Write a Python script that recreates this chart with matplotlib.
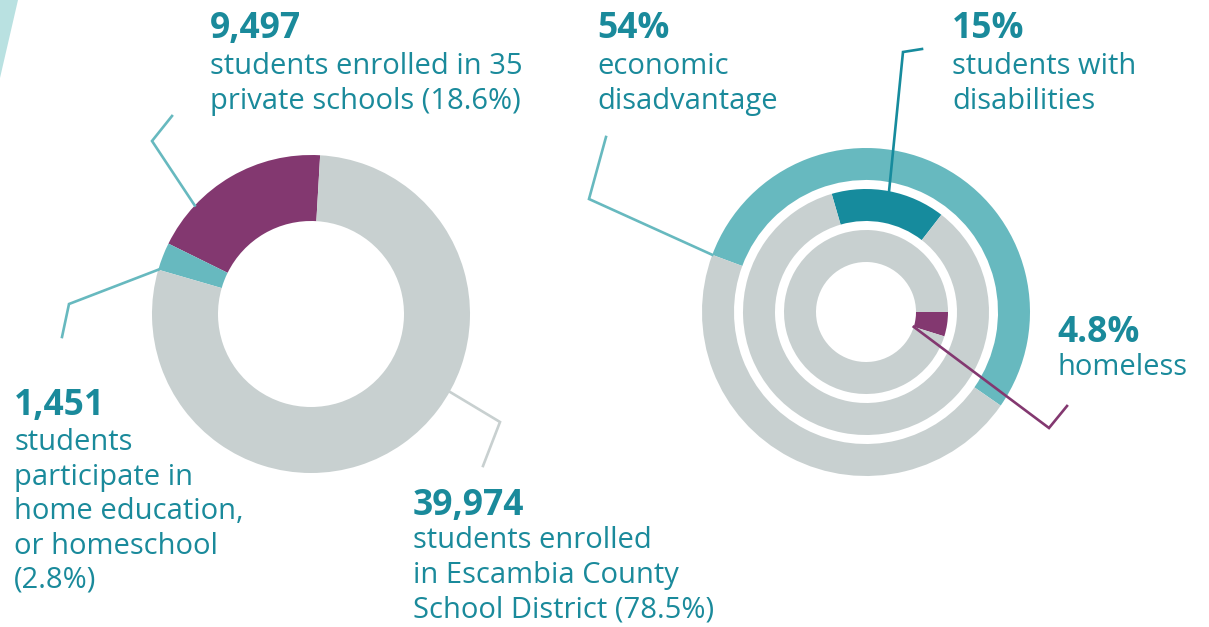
import numpy as np
import matplotlib.pyplot as plt
from matplotlib.patches import Polygon

W, H = 1209, 627

# where the county's students are enrolled
enroll_counts = [9497, 1451, 39974]
enroll_pct = [18.6, 2.8, 78.5]

# needs among district students (share, %)
need_pct = [54, 15, 4.8]

TEXT = '#1a8a9b'
TEAL_LIGHT = '#67b9bf'
TEAL_DARK = '#168b9d'
PURPLE = '#833870'
GREY = '#c8d0d0'
FONT = 'Open Sans'

fig = plt.figure(figsize=(W / 100, H / 100), dpi=100)
ax = fig.add_axes([0, 0, 1, 1])


def ring_point(center, r, ang):
    a = np.deg2rad(ang)
    return center[0] + r * np.cos(a), center[1] + r * np.sin(a)


def leader(points, color):
    xs, ys = zip(*points)
    ax.plot(xs, ys, color=color, lw=1.9, solid_joinstyle='miter', zorder=5)


def label(x, y_img, head, lines, gap=35, step=34.5):
    # y_img is the baseline of the heading, counted from the top edge
    ax.text(x, H - y_img, head, fontsize=25.5, fontweight='bold', color=TEXT,
            va='baseline', ha='left', family=FONT)
    for i, line in enumerate(lines):
        ax.text(x, H - (y_img + gap + i * step), line, fontsize=21,
                color=TEXT, va='baseline', ha='left', family=FONT)


# small accent shape in the corner
ax.add_patch(Polygon([(0, H), (18, H), (0, H - 78)], closed=True,
                     facecolor='#b9e1e1', edgecolor='none'))

# enrollment donut
left_c = (311, H - 314)
wedges, _ = ax.pie(enroll_pct, colors=[PURPLE, TEAL_LIGHT, GREY],
                   startangle=86.7, counterclock=True, radius=159,
                   center=left_c, wedgeprops=dict(width=66, linewidth=0))
w_priv, w_home, w_dist = wedges

a = w_priv.theta1 + 0.75 * (w_priv.theta2 - w_priv.theta1)
leader([(172, H - 116), (152, H - 141), ring_point(left_c, 159, a)], TEAL_LIGHT)
leader([(62, H - 337), (69, H - 304), ring_point(left_c, 159, w_home.theta2)], TEAL_LIGHT)
a = w_dist.theta1 + 0.59 * (w_dist.theta2 - w_dist.theta1)
leader([(483, H - 466), (500, H - 422), ring_point(left_c, 159, a)], GREY)

# concentric needs rings: outer, middle, inner
right_c = (866, H - 312)
ring_colors = [TEAL_LIGHT, TEAL_DARK, PURPLE]
ring_radii = [164, 123, 82]
ring_starts = [159.6, 106.2, 0]
ring_wedges = []
for p, c, r, s in zip(need_pct, ring_colors, ring_radii, ring_starts):
    ws, _ = ax.pie([p, 100 - p], colors=[c, GREY], startangle=s,
                   counterclock=False, radius=r, center=right_c,
                   wedgeprops=dict(width=32, linewidth=0))
    ring_wedges.append(ws[0])
w_econ, w_dis, w_home2 = ring_wedges

leader([(606, H - 137), (589, H - 199), ring_point(right_c, 164, w_econ.theta2)], TEAL_LIGHT)
mid = 0.5 * (w_dis.theta1 + w_dis.theta2)
leader([(922, H - 49), (903, H - 52), ring_point(right_c, 123, mid)], TEAL_DARK)
leader([ring_point(right_c, 50, w_home2.theta1), (1049, H - 428), (1067, H - 406)], PURPLE)

# text blocks
label(210, 38, f'{enroll_counts[0]:,}',
      ['students enrolled in 35', f'private schools ({enroll_pct[0]}%)'], gap=36.5)
label(14, 415, f'{enroll_counts[1]:,}',
      ['students', 'participate in', 'home education,', 'or homeschool',
       f'({enroll_pct[1]}%)'])
label(413, 515, f'{enroll_counts[2]:,}',
      ['students enrolled', 'in Escambia County',
       f'School District ({enroll_pct[2]}%)'], gap=33)
label(597, 38, f'{need_pct[0]}%', ['economic', 'disadvantage'], gap=36.5)
label(952, 38, f'{need_pct[1]}%', ['students with', 'disabilities'], gap=36.5)
label(1057, 342, f'{need_pct[2]}%', ['homeless'], gap=33)

ax.set_xlim(0, W)
ax.set_ylim(0, H)
ax.set_aspect('equal')
ax.axis('off')

fig.savefig('out.png', dpi=100)
